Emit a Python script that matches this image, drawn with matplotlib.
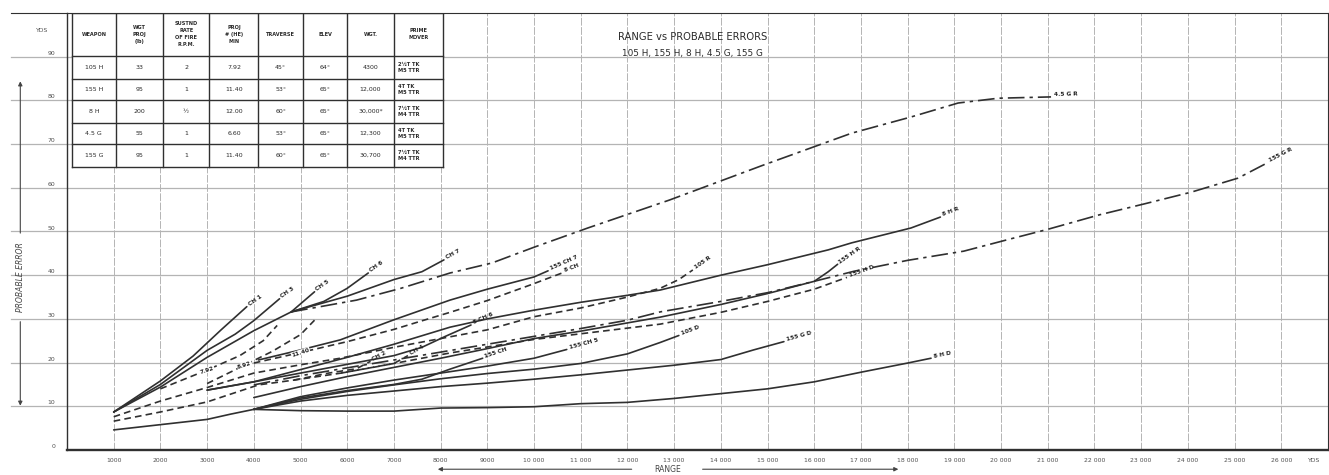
import numpy as np
import matplotlib.pyplot as plt

# ---- table data ----
weapons = ['105 H', '155 H', '8 H', '4.5 G', '155 G']
proj_wgt = ['33', '95', '200', '55', '95']
rate_fire = ['2', '1', '½', '1', '1']
he_per_min = ['7.92', '11.40', '12.00', '6.60', '11.40']
traverse = ['45°', '53°', '60°', '53°', '60°']
elevation = ['64°', '65°', '65°', '65°', '65°']
weight = ['4300', '12,000', '30,000*', '12,300', '30,700']
prime_mover = ['2½T TK\nM5 TTR', '4T TK\nM5 TTR', '7½T TK\nM4 TTR',
               '4T TK\nM5 TTR', '7½T TK\nM4 TTR']
headers = ['WEAPON', 'WGT\nPROJ\n(lb)', 'SUSTND\nRATE\nOF FIRE\nR.P.M.',
           'PROJ\n# (HE)\nMIN', 'TRAVERSE', 'ELEV', 'WGT.', 'PRIME\nMOVER']

# ---- curves: range (yds) vs probable error (yds) ----
range_ch1 = [1000, 2000, 2700, 3300, 3850]
pe_ch1 = [8.7, 15.8, 21.5, 27.5, 32.8]
range_ch2 = [1000, 2000, 3000, 3600, 4000, 4550]
pe_ch2 = [8.7, 15.0, 22.8, 26.5, 29.6, 34.6]
range_ch3 = [1000, 2000, 3000, 4000, 4800, 5300]
pe_ch3 = [8.7, 14.4, 21.2, 27.3, 31.6, 36.2]
range_ch4 = [4800, 5500, 6000, 6450]
pe_ch4 = [31.6, 34.0, 37.0, 40.5]
range_ch5 = [4800, 6000, 7000, 7600, 8070]
pe_ch5 = [31.6, 35.2, 39.0, 40.8, 43.5]

range_45g_r = [4800, 6200, 7150, 8200, 9100, 10000, 11150, 12900, 14860,
               16800, 18070, 19080, 19940, 21070]
pe_45g_r = [31.6, 34.3, 37.0, 40.5, 42.8, 46.4, 50.8, 57.2, 65.0,
            72.5, 76.2, 79.4, 80.5, 80.8]

range_155g_r = [4000, 5000, 6000, 7000, 8000, 9000, 10000, 11000, 12000,
                12700, 14000, 15000, 16000, 16850, 18000, 19200, 20200,
                21000, 22100, 23060, 24070, 25070, 25700]
pe_155g_r = [14.9, 17.0, 18.8, 20.6, 22.4, 24.2, 26.0, 27.8, 29.7,
             31.6, 34.0, 36.0, 38.6, 40.9, 43.4, 45.5, 48.3,
             50.5, 53.8, 56.3, 59.0, 62.2, 65.7]

range_8h_r = [3000, 4000, 5000, 6000, 7000, 8200, 9000, 10000, 11000,
              12000, 12700, 14000, 15000, 16300, 16800, 18070, 18700]
pe_8h_r = [13.7, 15.6, 18.4, 21.2, 24.2, 28.1, 30.0, 32.0, 33.8,
           35.4, 36.6, 40.0, 42.4, 45.8, 47.4, 50.8, 53.3]

range_8h_d = [1000, 2000, 3000, 3500, 4000, 5000, 6000, 7000, 8000, 9000,
              10000, 11000, 12000, 13000, 14000, 15000, 16000, 17000,
              18000, 18500]
pe_8h_d = [4.6, 5.8, 7.0, 8.2, 9.3, 9.0, 8.9, 8.9, 9.6, 9.7,
           9.9, 10.6, 10.9, 11.8, 12.9, 14.0, 15.6, 17.8, 19.9, 21.0]

range_155g_d = [4000, 5000, 6000, 7000, 8000, 9000, 10000, 11000, 12000,
                13000, 14000, 14700, 15350]
pe_155g_d = [9.3, 11.2, 12.5, 13.5, 14.5, 15.3, 16.2, 17.2, 18.3,
             19.4, 20.7, 22.9, 24.8]

range_105h_d = [4000, 5000, 6000, 7000, 8000, 9000, 10000, 11000, 12000,
                12700, 13100]
pe_105h_d = [9.3, 11.6, 13.4, 14.9, 16.3, 17.5, 18.5, 19.8, 22.0, 24.6, 26.2]

range_105h_r = [1000, 2000, 3000, 4000, 5000, 5850, 7000, 8200, 9000,
                10000, 11000, 12000, 12700, 13100, 13400]
pe_105h_r = [7.6, 11.2, 14.3, 17.6, 19.5, 21.0, 23.5, 25.9, 27.5,
             30.5, 32.5, 35.0, 37.0, 39.0, 41.2]

range_155h_r = [4000, 5000, 6000, 7000, 8000, 9000, 10000, 11000, 12700,
                14000, 15000, 16000, 16300, 16500]
pe_155h_r = [12.0, 14.5, 16.8, 18.9, 21.0, 23.2, 25.5, 27.2, 30.4,
             33.3, 35.8, 38.6, 40.8, 42.5]

range_155h_d = [1000, 2000, 3000, 4100, 4860, 5870, 7000, 8200, 10000,
                12700, 14000, 15000, 16000, 16700]
pe_155h_d = [6.6, 8.7, 11.0, 14.9, 16.0, 17.6, 19.8, 22.2, 25.3,
             28.8, 31.5, 34.0, 36.8, 39.5]

range_s1 = [4100, 5000, 5850, 7000, 8200, 9000, 10000, 10300]
pe_s1 = [20.6, 22.9, 25.2, 29.8, 34.3, 36.8, 39.6, 41.0]
range_s2 = [4000, 5000, 6000, 7000, 7580, 8200, 9000, 9930, 10600]
pe_s2 = [19.9, 22.3, 24.8, 27.6, 29.5, 31.5, 34.2, 37.8, 40.5]
range_s3 = [3000, 4000, 5000, 6000, 7000, 7600, 8100, 8650]
pe_s3 = [13.7, 15.6, 17.6, 19.6, 21.6, 23.5, 26.0, 28.6]
range_s4 = [4000, 5000, 6000, 7000, 7600, 8200, 8900]
pe_s4 = [9.3, 11.9, 13.6, 15.0, 16.2, 18.5, 21.0]
range_s5 = [4000, 5000, 6000, 7000, 8000, 9000, 10000, 10700]
pe_s5 = [9.3, 12.2, 14.2, 16.0, 17.6, 19.2, 21.0, 23.0]
range_s6 = [2000, 3000, 3700, 4200, 4500]
pe_s6 = [14.0, 18.3, 21.6, 25.0, 28.5]
range_s7 = [3000, 3800, 4400, 5000, 5300]
pe_s7 = [15.2, 19.4, 22.6, 26.4, 29.7]
range_s8 = [4860, 5600, 6200, 6500]
pe_s8 = [16.0, 17.6, 18.6, 20.3]
range_s9 = [5870, 6600, 7000, 7300]
pe_s9 = [17.6, 19.0, 19.8, 21.6]

x_ticks = list(range(1000, 27000, 1000))
y_ticks = list(range(0, 100, 10))

ink = '#303030'
grid_c = '#b4b4b4'
solid = '-'
dash = (0, (4, 2.5))
dashdot = (0, (10, 3, 2, 3))

curves = [
    (range_ch1, pe_ch1, solid, 'CH 1'),
    (range_ch2, pe_ch2, solid, 'CH 3'),
    (range_ch3, pe_ch3, solid, 'CH 5'),
    (range_ch4, pe_ch4, solid, 'CH 6'),
    (range_ch5, pe_ch5, solid, 'CH 7'),
    (range_45g_r, pe_45g_r, dashdot, '4.5 G R'),
    (range_155g_r, pe_155g_r, dashdot, '155 G R'),
    (range_8h_r, pe_8h_r, solid, '8 H R'),
    (range_8h_d, pe_8h_d, solid, '8 H D'),
    (range_155g_d, pe_155g_d, solid, '155 G D'),
    (range_105h_d, pe_105h_d, solid, '105 D'),
    (range_105h_r, pe_105h_r, dash, '105 R'),
    (range_155h_r, pe_155h_r, solid, '155 H R'),
    (range_155h_d, pe_155h_d, dash, '155 H D'),
    (range_s1, pe_s1, solid, '155 CH 7'),
    (range_s2, pe_s2, dash, '8 CH'),
    (range_s3, pe_s3, solid, '8 CH 6'),
    (range_s4, pe_s4, solid, '155 CH'),
    (range_s5, pe_s5, solid, '155 CH 5'),
    (range_s6, pe_s6, dash, ''),
    (range_s7, pe_s7, dash, ''),
    (range_s8, pe_s8, dash, 'CH 2'),
    (range_s9, pe_s9, dash, 'CH 4'),
]
mid_labels = [(range_s6, pe_s6, 1, '7.92'), (range_s7, pe_s7, 1, '8.92'),
              (range_s2, pe_s2, 1, '11.40')]

W, H = 1329, 475
fig = plt.figure(figsize=(W / 100, H / 100), dpi=100)
ax = fig.add_axes([67 / W, 25 / H, 1261 / W, 437 / H])
ax.set_xlim(0, 27000)
ax.set_ylim(0, 100)
ax.set_xticks([])
ax.set_yticks([])
for s in ax.spines.values():
    s.set_color(ink)
    s.set_linewidth(0.8)
ax.spines['left'].set_linewidth(1.0)
ax.spines['bottom'].set_linewidth(1.7)

# grid
for x in x_ticks:
    ax.plot([x, x], [0, 100], color=grid_c, lw=0.7, ls=(0, (8, 1.5)), zorder=1)
for y in y_ticks[1:]:
    ax.plot([-1200, 27000], [y, y], color=grid_c, lw=0.9, zorder=1, clip_on=False)
ax.plot([-1200, 0], [100, 100], color=ink, lw=0.8, clip_on=False)

# tick labels
for x in x_ticks:
    lab = str(x) if x < 10000 else f'{x // 1000} {x % 1000:03d}'
    ax.text(x, -2.4, lab, ha='center', va='center', fontsize=4.4, color='#505050')
ax.text(26700, -2.4, 'YDS', ha='center', va='center', fontsize=4.4, color='#505050')
for y in y_ticks:
    ax.text(-250, y + 0.8, str(y), ha='right', va='center', fontsize=4.4, color='#505050')
ax.text(-400, 96, 'YDS', ha='right', va='center', fontsize=4.4, color='#505050')

# axis titles with arrows
ax.text(12850, -4.4, 'RANGE', ha='center', va='center', fontsize=5.5, color='#444',
        clip_on=False)
ax.annotate('', xy=(7880, -4.4), xytext=(12150, -4.4), annotation_clip=False,
            arrowprops=dict(arrowstyle='-|>', color='#444', lw=0.8, mutation_scale=6))
ax.annotate('', xy=(17860, -4.4), xytext=(13550, -4.4), annotation_clip=False,
            arrowprops=dict(arrowstyle='-|>', color='#444', lw=0.8, mutation_scale=6))
ax.text(-1000, 39.5, 'PROBABLE ERROR', rotation=90, ha='center', va='center',
        fontsize=5.5, color='#444', style='italic')
ax.annotate('', xy=(-1000, 85), xytext=(-1000, 49), annotation_clip=False,
            arrowprops=dict(arrowstyle='-|>', color='#444', lw=0.8, mutation_scale=6))
ax.annotate('', xy=(-1000, 9.5), xytext=(-1000, 30), annotation_clip=False,
            arrowprops=dict(arrowstyle='-|>', color='#444', lw=0.8, mutation_scale=6))

# title
ax.text(13400, 94.6, 'RANGE vs PROBABLE ERRORS', ha='center', va='center',
        fontsize=7.2, color='#2a2a2a')
ax.text(13400, 90.8, '105 H, 155 H, 8 H, 4.5 G, 155 G', ha='center', va='center',
        fontsize=6.4, color='#2a2a2a')

# table
col_edges = [100, 1050, 2050, 3050, 4100, 5050, 6000, 7000, 8050]
row_edges = [100, 90.2, 84.9, 80.0, 74.9, 70.0, 64.8]
ax.add_patch(plt.Rectangle((col_edges[0], row_edges[-1]), col_edges[-1] - col_edges[0],
                           100 - row_edges[-1], facecolor='white', edgecolor='none',
                           zorder=2))
for x in col_edges:
    ax.plot([x, x], [row_edges[-1], 100], color=ink, lw=1.0, zorder=3)
for y in row_edges:
    ax.plot([col_edges[0], col_edges[-1]], [y, y], color=ink, lw=1.0, zorder=3)
for i, h in enumerate(headers):
    cx = (col_edges[i] + col_edges[i + 1]) / 2
    ax.text(cx, 95.1, h, ha='center', va='center', fontsize=3.6, color='#2a2a2a',
            linespacing=1.5, fontweight='bold', zorder=4)
columns = [weapons, proj_wgt, rate_fire, he_per_min, traverse, elevation, weight]
for r in range(len(weapons)):
    cy = (row_edges[r + 1] + row_edges[r + 2]) / 2
    for i, col in enumerate(columns):
        cx = (col_edges[i] + col_edges[i + 1]) / 2
        ax.text(cx, cy, col[r], ha='center', va='center', fontsize=4.5, color='#2a2a2a',
                zorder=4)
    ax.text(col_edges[7] + 80, cy, prime_mover[r], ha='left', va='center',
            fontsize=3.7, color='#2a2a2a', linespacing=1.3, fontweight='bold', zorder=4)

# curves
for xs, ys, ls, lab in curves:
    ax.plot(xs, ys, color=ink, lw=1.2, ls=ls, zorder=5, solid_capstyle='round')
    if lab:
        p0 = ax.transData.transform((xs[-2], ys[-2]))
        p1 = ax.transData.transform((xs[-1], ys[-1]))
        ang = np.degrees(np.arctan2(p1[1] - p0[1], p1[0] - p0[0]))
        ang = max(min(ang, 35), 0)
        ax.annotate(lab, (xs[-1], ys[-1]), xytext=(2, 0.5), textcoords='offset points',
                    rotation=ang, rotation_mode='anchor', fontsize=4.2,
                    color='#222', fontweight='bold', zorder=6)
for xs, ys, k, lab in mid_labels:
    ax.text(xs[k], ys[k], lab, ha='center', va='center', fontsize=4.2, color='#222',
            fontweight='bold', rotation=18, zorder=6,
            bbox=dict(facecolor='white', edgecolor='none', pad=0.3))

fig.savefig('out.png', dpi=100, facecolor='white')
